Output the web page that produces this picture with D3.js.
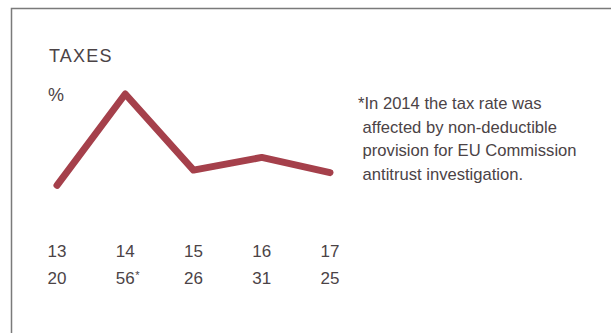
<!DOCTYPE html>
<html>
<head>
<meta charset="utf-8">
<script src="https://cdn.jsdelivr.net/npm/d3@7"></script>
<style>
  body { margin: 0; background: #fff; }
  svg text { font-family: "Liberation Sans", Arial, sans-serif; fill: #4b4346; }
</style>
</head>
<body>
<script>
// data
const years = ["13", "14", "15", "16", "17"];
const taxRates = [20, 56, 26, 31, 25];
const valueLabels = ["20", "56", "26", "31", "25"];
const noteLines = [
  "*In 2014 the tax rate was",
  " affected by non-deductible",
  " provision for EU Commission",
  " antitrust investigation."
];

const w = 611, h = 333;

let svg = d3.select("body")
    .append("svg")
    .attr("width", w)
    .attr("height", h);

// frame (top + left edges visible)
svg.append("path")
    .attr("d", `M11.5,${h} V8.5 H${w}`)
    .attr("fill", "none")
    .attr("stroke", "#7a7a7a")
    .attr("stroke-width", 1.5);

let x = d3.scalePoint()
    .domain(years)
    .range([57, 330]);

let y = d3.scaleLinear()
    .domain([0, 56])
    .range([236, 94]);

svg.append("text")
    .attr("x", 49)
    .attr("y", 62)
    .attr("font-size", 18)
    .attr("letter-spacing", 1.2)
    .text("TAXES");

svg.append("text")
    .attr("x", 48)
    .attr("y", 101)
    .attr("font-size", 18)
    .text("%");

let line = d3.line()
    .x((d, i) => x(years[i]))
    .y(d => y(d));

svg.append("path")
    .datum(taxRates)
    .attr("d", line)
    .attr("fill", "none")
    .attr("stroke", "#a5404b")
    .attr("stroke-width", 7)
    .attr("stroke-linejoin", "round")
    .attr("stroke-linecap", "round");

// year labels
svg.append("g")
    .selectAll("text")
    .data(years)
    .enter().append("text")
    .attr("x", d => x(d))
    .attr("y", 257)
    .attr("text-anchor", "middle")
    .attr("font-size", 17)
    .text(d => d);

// value labels
svg.append("g")
    .selectAll("text")
    .data(valueLabels)
    .enter().append("text")
    .attr("x", (d, i) => x(years[i]))
    .attr("y", 284)
    .attr("text-anchor", "middle")
    .attr("font-size", 17)
    .text(d => d);

// asterisk on 2014 value
svg.append("text")
    .attr("x", x("14") + 10)
    .attr("y", 279)
    .attr("font-size", 11)
    .text("*");

// footnote
svg.append("g")
    .selectAll("text")
    .data(noteLines)
    .enter().append("text")
    .attr("x", 358)
    .attr("y", (d, i) => 109 + i * 23.7)
    .attr("font-size", 16.6)
    .style("white-space", "pre")
    .text(d => d);
</script>
</body>
</html>
